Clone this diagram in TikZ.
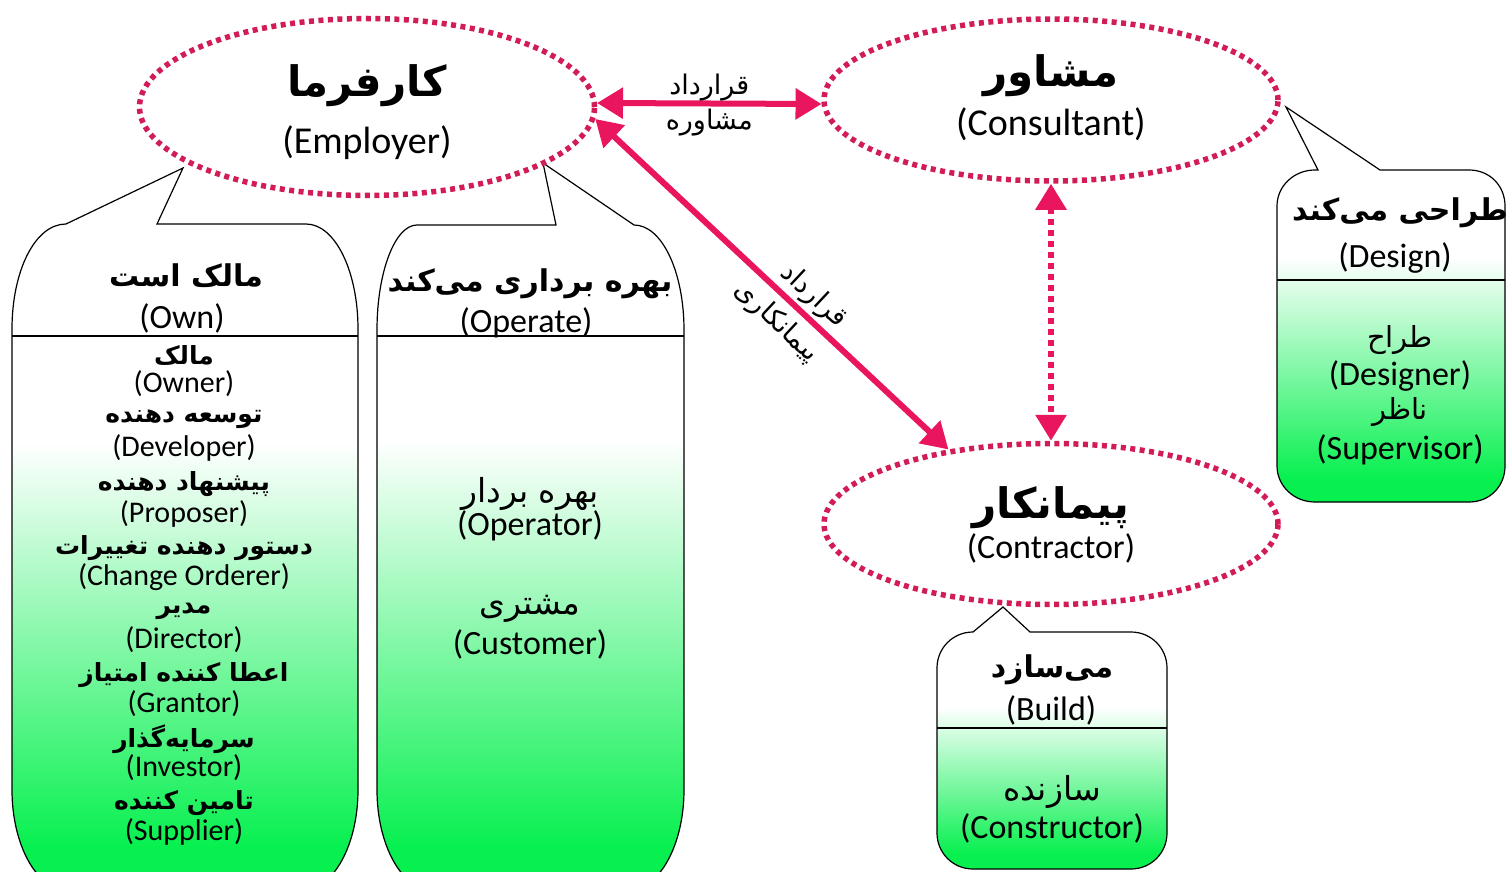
\documentclass[tikz,border=0pt]{standalone}
\usepackage{fontspec}
\setmainfont{Carlito}
\newfontfamily\arabicfont[Script=Arabic]{DejaVu Sans}
\TeXXeTstate=1
\usetikzlibrary{arrows.meta,shapes.geometric}
\definecolor{dotred}{RGB}{210,28,86}
\definecolor{arrowred}{RGB}{233,21,94}
\definecolor{bubblegreen}{RGB}{8,240,80}
\newcommand{\fatext}[1]{{\arabicfont\beginR #1\endR}}
\pgfdeclareverticalshading{bubblefade}{100bp}{color(0bp)=(bubblegreen); color(28bp)=(bubblegreen); color(42bp)=(bubblegreen!50!white); color(56bp)=(white); color(100bp)=(white)}

\begin{document}
\begin{tikzpicture}[x=1pt, y=-1pt,
  party/.style={ellipse, draw=dotred, line width=5.5pt, dash pattern=on 5pt off 4.5pt, inner sep=0pt},
  contract/.style={color=arrowred, line width=6pt, {Triangle[length=26pt,width=30pt]}-{Triangle[length=26pt,width=30pt]}},
  bubble/.style={draw=black, line width=1.2pt, shade, shading=bubblefade},
  fatitle/.style={inner sep=0pt, font=\fontsize{42}{48}\selectfont\bfseries},
  fahead/.style={inner sep=0pt, font=\fontsize{30}{36}\selectfont\bfseries},
  faitem/.style={inner sep=0pt, font=\fontsize{25}{30}\selectfont\bfseries},
  faplain/.style={inner sep=0pt, font=\fontsize{33}{38}\selectfont},
  falabel/.style={inner sep=0pt, text=black, font=\fontsize{27}{32}\selectfont},
  entitle/.style={inner sep=0pt, font=\fontsize{38}{44}\selectfont},
  entext/.style={inner sep=0pt, font=\fontsize{34}{40}\selectfont},
  enitem/.style={inner sep=0pt, font=\fontsize{30}{34}\selectfont}]
\useasboundingbox (0,0) rectangle (1507,872);
\clip (0,0) rectangle (1507,872);

% speech bubbles
\draw[bubble] (66,224) -- (183,168) -- (157,224) -- (306,224) .. controls (335,224) and (358,271) .. (358,329) -- (358,790) .. controls (358,845) and (333,890) .. (303,890) -- (67,890) .. controls (37,890) and (12,845) .. (12,790) -- (12,329) .. controls (12,271) and (35,224) .. (66,224) -- cycle;
\draw[line width=1.2pt] (12,336) -- (358,336);

\draw[bubble] (556,225) -- (543,163) -- (634,225) .. controls (662,225) and (684,272) .. (684,330) -- (684,790) .. controls (684,845) and (659,890) .. (629,890) -- (432,890) .. controls (402,890) and (377,845) .. (377,790) -- (377,330) .. controls (377,272) and (395,225) .. (417,225) -- cycle;
\draw[line width=1.2pt] (377,336) -- (684,336);

\draw[bubble] (1318,170) -- (1286,107) -- (1380,170) -- (1469,170) .. controls (1490,170) and (1505,186) .. (1505,206) -- (1505,466) .. controls (1505,486) and (1490,502) .. (1469,502) -- (1315,502) .. controls (1294,502) and (1277,486) .. (1277,466) -- (1277,206) .. controls (1277,186) and (1294,170) .. (1315,170) -- cycle;
\draw[line width=1.2pt] (1277,280) -- (1505,280);

\draw[bubble] (973,632) -- (1003,607) -- (1030,632) -- (1131,632) .. controls (1151,632) and (1167,648) .. (1167,668) -- (1167,833) .. controls (1167,853) and (1151,869) .. (1131,869) -- (973,869) .. controls (953,869) and (937,853) .. (937,833) -- (937,668) .. controls (937,648) and (953,632) .. (973,632) -- cycle;
\draw[line width=1.2pt] (937,728) -- (1167,728);

% parties
\node[party, minimum width=455pt, minimum height=177pt] (employer) at (367,107) {};
\node[party, minimum width=454pt, minimum height=162pt] (consultant) at (1051,100) {};
\node[party, minimum width=454pt, minimum height=161pt] (contractor) at (1051,524) {};

\node[fatitle] (employerfa) at (367,86) {\fatext{کارفرما}};
\node[entitle] (employeren) at (367,143) {(Employer)};
\node[fatitle] (consultantfa) at (1051,76) {\fatext{مشاور}};
\node[entitle] (consultanten) at (1051,124) {(Consultant)};
\node[fatitle] (contractorfa) at (1051,508) {\fatext{پیمانکار}};
\node[entext] (contractoren) at (1051,548) {(Contractor)};

% contracts
\draw[contract] (employer.1) -- (consultant.181)
  node[falabel, above=-1pt, pos=0.5] (advicefa1) {\fatext{قرارداد}}
  node[falabel, below=2pt, pos=0.5] (advicefa2) {\fatext{مشاوره}};
\draw[contract] (employer.-3) -- (contractor.144)
  node[falabel, sloped, above=3pt, pos=0.58] (buildfa1) {\fatext{قرارداد}}
  node[falabel, sloped, below=8pt, pos=0.56] (buildfa2) {\fatext{پیمانکاری}};
\draw[contract, dash pattern=on 6pt off 5pt] (consultant.south) -- (contractor.north);

% own
\node[fahead] (ownfa) at (186,276) {\fatext{مالک است}};
\node[entext] (ownen) at (182,318) {(Own)};
\node[faitem] (ownfa1) at (184,355) {\fatext{مالک}};
\node[enitem] (ownen1) at (184,384) {(Owner)};
\node[faitem] (ownfa2) at (184,419) {\fatext{توسعه دهنده}};
\node[enitem] (ownen2) at (184,448) {(Developer)};
\node[faitem] (ownfa3) at (184,484) {\fatext{پیشنهاد دهنده}};
\node[enitem] (ownen3) at (184,514) {(Proposer)};
\node[faitem] (ownfa4) at (184,548) {\fatext{دستور دهنده تغییرات}};
\node[enitem] (ownen4) at (184,577) {(Change Orderer)};
\node[faitem] (ownfa5) at (184,611) {\fatext{مدیر}};
\node[enitem] (ownen5) at (184,640) {(Director)};
\node[faitem] (ownfa6) at (184,675) {\fatext{اعطا کننده امتیاز}};
\node[enitem] (ownen6) at (184,704) {(Grantor)};
\node[faitem] (ownfa7) at (184,739) {\fatext{سرمایه‌گذار}};
\node[enitem] (ownen7) at (184,768) {(Investor)};
\node[faitem] (ownfa8) at (184,803) {\fatext{تامین کننده}};
\node[enitem] (ownen8) at (184,832) {(Supplier)};

% operate
\node[fahead] (operatefa) at (530,284) {\fatext{بهره برداری می‌کند}};
\node[entext] (operateen) at (526,323) {(Operate)};
\node[faplain] (operatefa1) at (530,494) {\fatext{بهره بردار}};
\node[entext] (operateen1) at (530,526) {(Operator)};
\node[faplain] (operatefa2) at (530,609) {\fatext{مشتری}};
\node[entext] (operateen2) at (530,644) {(Customer)};

% design
\node[fahead] (designfa) at (1400,213) {\fatext{طراحی می‌کند}};
\node[entext] (designen) at (1395,258) {(Design)};
\node[faplain, font=\fontsize{29}{34}\selectfont] (designfa1) at (1400,340) {\fatext{طراح}};
\node[entext] (designen1) at (1400,376) {(Designer)};
\node[faplain, font=\fontsize{29}{34}\selectfont] (designfa2) at (1400,412) {\fatext{ناظر}};
\node[entext] (designen2) at (1400,450) {(Supervisor)};

% build
\node[fahead] (buildfa) at (1052,670) {\fatext{می‌سازد}};
\node[entext] (builden) at (1051,710) {(Build)};
\node[faplain] (buildfa3) at (1052,792) {\fatext{سازنده}};
\node[entext] (builden1) at (1052,828) {(Constructor)};
\end{tikzpicture}
\end{document}
